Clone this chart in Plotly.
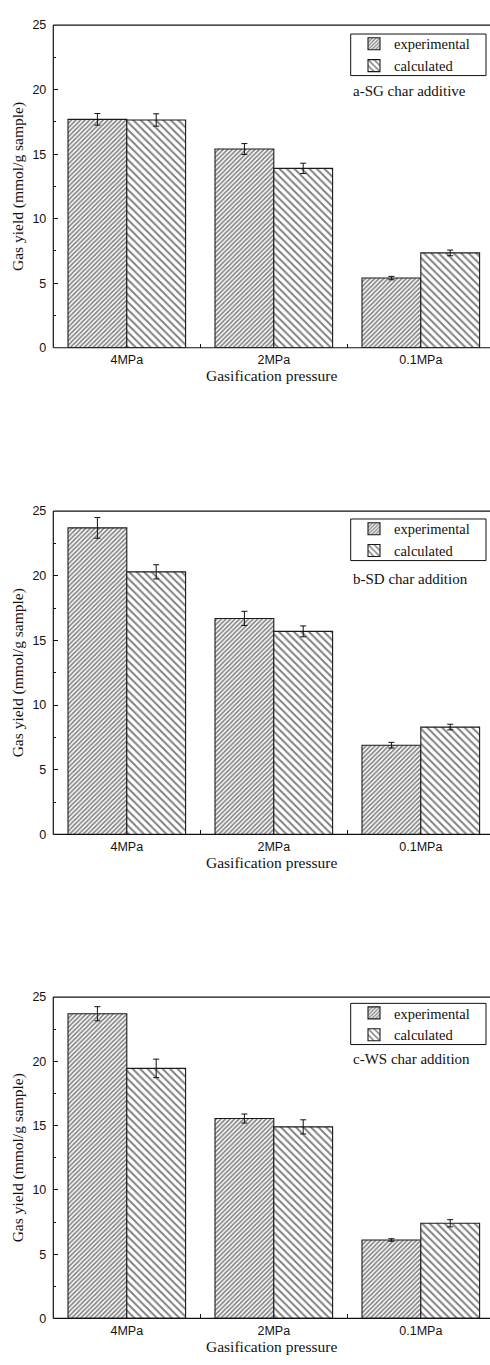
import plotly.graph_objects as go

categories = ["4MPa", "2MPa", "0.1MPa"]
series_names = ["experimental", "calculated"]
panel_labels = ["a-SG char additive", "b-SD char addition", "c-WS char addition"]

a_exp = [17.7, 15.4, 5.4]
a_exp_err = [0.45, 0.42, 0.13]
a_calc = [17.65, 13.9, 7.35]
a_calc_err = [0.48, 0.4, 0.22]

b_exp = [23.7, 16.7, 6.9]
b_exp_err = [0.8, 0.55, 0.22]
b_calc = [20.3, 15.7, 8.3]
b_calc_err = [0.55, 0.42, 0.22]

c_exp = [23.7, 15.55, 6.1]
c_exp_err = [0.55, 0.35, 0.1]
c_calc = [19.45, 14.9, 7.4]
c_calc_err = [0.72, 0.55, 0.28]

y_ticks = [0, 5, 10, 15, 20, 25]

panels = [
    (a_exp, a_exp_err, a_calc, a_calc_err),
    (b_exp, b_exp_err, b_calc, b_calc_err),
    (c_exp, c_exp_err, c_calc, c_calc_err),
]

H = 1365.0
W = 490.0
boxes = [(18.3, 344.3), (509.3, 836.0), (1000.3, 1325.0)]
legend_boxes = [(27.3, 69.3), (517.3, 559.3), (1006.7, 1048.3)]
label_ys = [85.0, 578.3, 1063.3]
x_left = 53.3

fig = go.Figure()
serif = "Liberation Serif, Times New Roman, serif"
sans = "Liberation Sans, Arial, sans-serif"
ink = "#111111"

patterns = [dict(shape="/", size=3.2, solidity=0.5, fgcolor="black", bgcolor="white"),
            dict(shape="\\", size=5.3, solidity=0.36, fgcolor="black", bgcolor="white")]

for i, (e, ee, c, ce) in enumerate(panels):
    n = i + 1
    xa = "x" if n == 1 else f"x{n}"
    ya = "y" if n == 1 else f"y{n}"
    lg = "legend" if n == 1 else f"legend{n}"
    for j, (vals, errs) in enumerate([(e, ee), (c, ce)]):
        fig.add_trace(go.Bar(
            x=categories, y=vals, name=series_names[j],
            xaxis=xa, yaxis=ya, legend=lg,
            marker=dict(color="white", pattern=patterns[j],
                        line=dict(color="#1a1a1a", width=1.1)),
            error_y=dict(type="data", array=errs, visible=True,
                         color=ink, thickness=1, width=3),
        ))
    top, bot = boxes[i]
    ydom = [1 - bot / H, 1 - top / H]
    xkey = "xaxis" if n == 1 else f"xaxis{n}"
    ykey = "yaxis" if n == 1 else f"yaxis{n}"
    ltop, lbot = legend_boxes[i]
    fig.update_layout(**{
        xkey: dict(
            domain=[x_left / W, 1.0], anchor=ya, type="category",
            range=[-0.5, -0.5 + (W - x_left) / 147.0],
            tickson="boundaries", ticks="inside", ticklen=4, tickcolor=ink,
            showline=False, mirror=False,
            showgrid=False, zeroline=False,
            tickfont=dict(family=sans, size=12.5, color=ink),
            ticklabelstandoff=3,
            title=dict(text="Gasification pressure", standoff=2,
                       font=dict(family=serif, size=15.5, color=ink)),
        ),
        ykey: dict(
            domain=ydom, anchor=xa, range=[0, 25],
            tickvals=y_ticks, ticks="inside", ticklen=5, tickcolor=ink,
            minor=dict(ticks="inside", ticklen=3, dtick=2.5, tickcolor=ink, showgrid=False),
            showline=False, mirror=False,
            showgrid=False, zeroline=False,
            tickfont=dict(family=sans, size=12.5, color=ink),
            ticklabelstandoff=6,
            title=dict(text="Gas yield (mmol/g sample)", standoff=4,
                       font=dict(family=serif, size=15.5, color=ink)),
        ),
        lg: dict(
            x=354.0 / W, y=1 - (ltop + lbot) / 2 / H, xanchor="left", yanchor="middle",
            borderwidth=0, bgcolor="rgba(0,0,0,0)",
            font=dict(family=serif, size=14.5, color=ink),
            tracegroupgap=0, itemwidth=30,
        ),
    })
    # frame lines: bottom, top, left
    for (x0, x1, y0, y1) in [(0, 1, 0, 0), (0, 1, 1, 1), (0, 0, 0, 1)]:
        fig.add_shape(type="line", xref=f"{xa} domain", yref=f"{ya} domain",
                      x0=x0, x1=x1, y0=y0, y1=y1, line=dict(color=ink, width=1.2))
    # legend frame
    fig.add_shape(type="rect", xref="paper", yref="paper",
                  x0=350.7 / W, x1=486.0 / W, y0=1 - lbot / H, y1=1 - ltop / H,
                  line=dict(color=ink, width=1), fillcolor="white", layer="below")
    fig.add_annotation(
        text=panel_labels[i], xref="paper", yref="paper",
        x=350.5 / W, y=1 - label_ys[i] / H, xanchor="left", yanchor="middle",
        showarrow=False, font=dict(family=serif, size=15, color=ink),
    )

fig.update_layout(
    width=490, height=1365,
    margin=dict(l=0, r=0, t=0, b=0),
    paper_bgcolor="white", plot_bgcolor="white",
    barmode="group", bargap=0.2, bargroupgap=0,
    showlegend=True,
)

fig.write_html("out.html")
